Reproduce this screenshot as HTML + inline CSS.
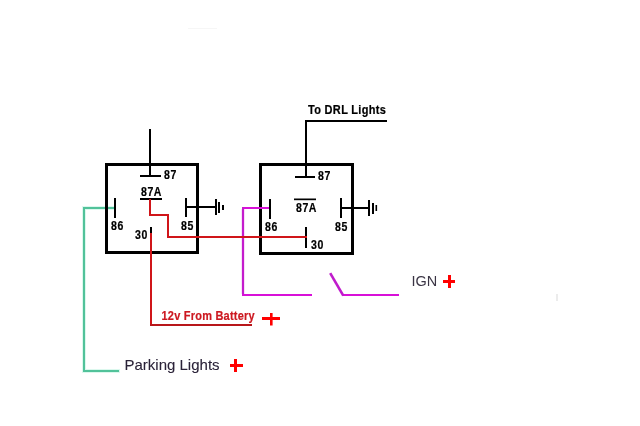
<!DOCTYPE html>
<html><head><meta charset="utf-8">
<style>
html,body{margin:0;padding:0;background:#fff;}
body{width:640px;height:426px;overflow:hidden;position:relative;}
svg{position:absolute;left:0;top:0;will-change:transform;}
text{font-family:"Liberation Sans",sans-serif;}
.b{font-weight:bold;font-size:12px;fill:#000;stroke:#000;stroke-width:0.2;letter-spacing:0.6px;}
</style></head><body>
<svg width="640" height="426" viewBox="0 0 640 426" shape-rendering="crispEdges">
<!-- faint artifacts -->
<rect x="188" y="28" width="29" height="1" fill="#f6f6f6"/>
<rect x="556" y="294" width="2" height="7" fill="#ececec"/>

<!-- green (under black) -->
<g fill="#dcf8ee">
<rect x="82" y="206" width="33" height="4"/>
<rect x="82" y="206" width="4" height="167"/>
<rect x="82" y="369" width="38" height="4"/>
</g>
<g fill="#52c29a">
<rect x="83" y="207" width="32" height="2"/>
<rect x="83" y="207" width="2" height="165"/>
<rect x="83" y="370" width="36" height="2"/>
</g>

<!-- Relay 1 box -->
<rect x="106.5" y="164.5" width="91" height="88" fill="none" stroke="#000" stroke-width="3"/>
<!-- Relay 2 box -->
<rect x="260.5" y="164.5" width="92" height="89" fill="none" stroke="#000" stroke-width="3"/>

<g fill="#000">
<!-- Relay1 87 wire -->
<rect x="149" y="129" width="2" height="47"/>
<rect x="140" y="175" width="21" height="2"/>
<!-- 87A underline -->
<rect x="140" y="198" width="22" height="2"/>
<!-- 86 terminal -->
<rect x="114" y="198" width="2" height="20"/>
<!-- 30 terminal -->
<rect x="150" y="227" width="2" height="7"/>
<!-- 85 terminal + ground -->
<rect x="185" y="198" width="2" height="19"/>
<rect x="185" y="206" width="31" height="2"/>
<rect x="215" y="199" width="2" height="16"/>
<rect x="218" y="202" width="2" height="11"/>
<rect x="222" y="205" width="2" height="5"/>

<!-- Relay2 87 wire -->
<rect x="305" y="120" width="82" height="2"/>
<rect x="305" y="120" width="2" height="57"/>
<rect x="295" y="176" width="20" height="2"/>
<!-- 87A overline -->
<rect x="294" y="198.5" width="22" height="1.7" shape-rendering="auto"/>
<!-- 86 -->
<rect x="269" y="199" width="2" height="20"/>
<!-- 30 -->
<rect x="305" y="227" width="2" height="21"/>
<!-- 85 + ground -->
<rect x="340" y="198" width="2" height="20"/>
<rect x="340" y="207" width="29" height="2"/>
<rect x="368" y="200" width="2" height="16"/>
<rect x="372" y="203" width="2" height="11"/>
<rect x="375.5" y="205" width="1.6" height="6" shape-rendering="auto"/>
</g>

<!-- magenta -->
<rect x="241" y="209" width="4" height="85" fill="#f6e0f8"/>
<g fill="#d810d8">
<rect x="242" y="207" width="27" height="2"/>
<rect x="242" y="207" width="2" height="89" fill="#c41ccc"/>
<rect x="242" y="294" width="70" height="2"/>
<rect x="343" y="294" width="56" height="2"/>
</g>
<line x1="330.2" y1="273.2" x2="343.3" y2="295.6" stroke="#c01ccc" stroke-width="2.6" shape-rendering="auto"/>

<!-- red wires (top) -->
<g fill="#d01519">
<rect x="149" y="199" width="2" height="17"/>
<rect x="149" y="214" width="20" height="2"/>
<rect x="167" y="214" width="2" height="24"/>
<rect x="167" y="236" width="140" height="2"/>
<rect x="150" y="233" width="2" height="93"/>
<rect x="150" y="324" width="102" height="2" fill="#b8161a"/>
</g>

<!-- plus signs -->
<g fill="#f00">
<rect x="443" y="280" width="12" height="3"/>
<rect x="448" y="275" width="3" height="13"/>
<rect x="262" y="317" width="17.5" height="3"/>
<rect x="270" y="313" width="2.6" height="12.5" shape-rendering="auto"/>
<rect x="229.5" y="364" width="13.3" height="3"/>
<rect x="234" y="358.5" width="3" height="13.5"/>
</g>

<!-- text -->
<text class="b" transform="translate(308,114) scale(0.88,1)" style="font-size:12.5px;letter-spacing:0.36px">To DRL Lights</text>
<g class="b">
<text transform="translate(164,179) scale(0.88,1)">87</text>
<text transform="translate(141,196) scale(0.88,1)">87A</text>
<text transform="translate(111,230) scale(0.88,1)">86</text>
<text transform="translate(135,239) scale(0.88,1)">30</text>
<text transform="translate(181,230) scale(0.88,1)">85</text>
<text transform="translate(318,180) scale(0.88,1)">87</text>
<text transform="translate(296,212) scale(0.88,1)">87A</text>
<text transform="translate(265,231) scale(0.88,1)">86</text>
<text transform="translate(335,231) scale(0.88,1)">85</text>
<text transform="translate(311,249) scale(0.88,1)">30</text>
</g>
<text transform="translate(161.5,320) scale(0.88,1)" style="font-weight:bold;font-size:12.5px;letter-spacing:0.25px;fill:#cc1820;stroke:#cc1820;stroke-width:0.2">12v From Battery</text>
<text x="124.5" y="369.5" style="font-size:15px;fill:#2a2238;stroke:#2a2238;stroke-width:0.1">Parking Lights</text>
<text transform="translate(411.5,286) scale(0.967,1)" style="font-size:15px;fill:#3a3444">IGN</text>
</svg>
</body></html>
